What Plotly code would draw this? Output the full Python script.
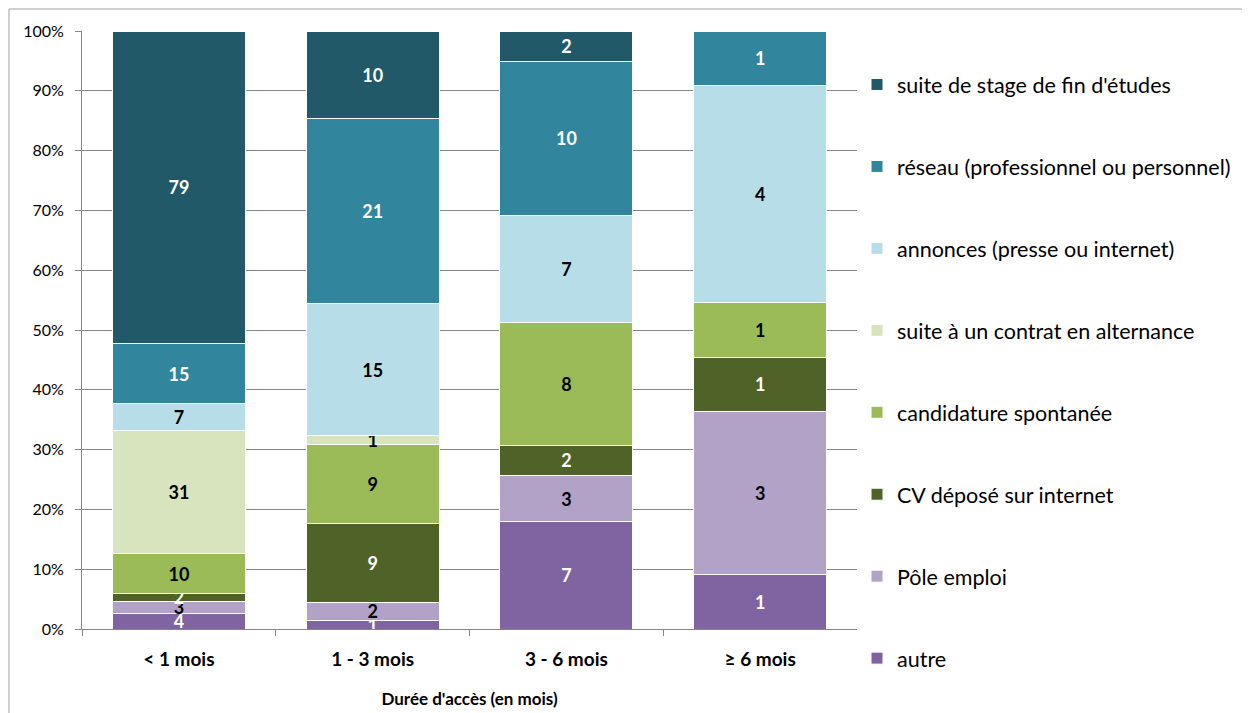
import plotly.graph_objects as go

categories = ["< 1 mois", "1 - 3 mois", "3 - 6 mois", "≥ 6 mois"]

# series, bottom to top of the stack
series_names = [
    "autre",
    "Pôle emploi",
    "CV déposé sur internet",
    "candidature spontanée",
    "suite à un contrat en alternance",
    "annonces (presse ou internet)",
    "réseau (professionnel ou personnel)",
    "suite de stage de fin d'études",
]
autre = [4, 1, 7, 1]
pole_emploi = [3, 2, 3, 3]
cv_internet = [2, 9, 2, 1]
candidature = [10, 9, 8, 1]
alternance = [31, 1, 0, 0]
annonces = [7, 15, 7, 4]
reseau = [15, 21, 10, 1]
stage = [79, 10, 2, 0]

series_values = [autre, pole_emploi, cv_internet, candidature,
                 alternance, annonces, reseau, stage]
colors = ["#8064A2", "#B3A2C7", "#4F6228", "#9BBB59",
          "#D7E4BD", "#B7DEE8", "#31859C", "#215968"]
text_colors = ["white", "black", "white", "black",
               "black", "black", "white", "white"]

FONT = "Lato, 'Open Sans', sans-serif"

W, H = 1242, 705
L, T, PW, PH = 74, 23, 775, 598

fig = go.Figure()
n = len(series_names)
for i, (name, vals) in enumerate(zip(series_names, series_values)):
    fig.add_trace(go.Bar(
        x=categories,
        y=[v if v else None for v in vals],
        name=name,
        legendgroup=name,
        legendrank=n - i,
        marker=dict(color=colors[i], line=dict(color="white", width=1)),
        text=[str(v) if v else "" for v in vals],
        textposition="inside",
        insidetextanchor="middle",
        constraintext="none",
        textangle=0,
        textfont=dict(color=text_colors[i], size=18, family=FONT, weight="bold"),
        cliponaxis=False,
    ))

fig.update_layout(
    barmode="stack",
    barnorm="percent",
    bargap=0.314,
    width=W,
    height=H,
    margin=dict(l=L, r=W - L - PW, t=T, b=H - T - PH, autoexpand=False),
    paper_bgcolor="white",
    plot_bgcolor="white",
    font=dict(family=FONT, color="black"),
    showlegend=True,
    legend=dict(
        traceorder="grouped",
        tracegroupgap=51,
        xref="container",
        yref="container",
        x=849 / W,
        xanchor="left",
        y=1 - 56 / H,
        yanchor="top",
        maxheight=700,
        font=dict(size=21.5, family=FONT, color="black"),
        itemwidth=30,
    ),
    xaxis=dict(
        showline=True,
        linecolor="#868686",
        linewidth=1,
        ticks="outside",
        tickson="boundaries",
        ticklen=6,
        tickcolor="#868686",
        ticklabelstandoff=13,
        tickfont=dict(size=19, family=FONT, weight="bold"),
        title=dict(text="<b>Durée d'accès (en mois)</b>", font=dict(size=17, family=FONT), standoff=24),
    ),
    yaxis=dict(
        range=[0, 100.0005],
        tickvals=[0, 10, 20, 30, 40, 50, 60, 70, 80, 90, 100],
        ticktext=["0%", "10%", "20%", "30%", "40%", "50%", "60%", "70%", "80%", "90%", "100%"],
        showgrid=True,
        gridcolor="#868686",
        gridwidth=1,
        showline=True,
        linecolor="#868686",
        linewidth=1,
        ticks="outside",
        ticklen=6,
        tickcolor="#868686",
        ticklabelstandoff=8,
        tickfont=dict(size=16, family=FONT),
        zeroline=False,
    ),
    shapes=[
        dict(type="line", xref="paper", yref="paper",
             x0=(1 - L) / PW, x1=(W - L) / PW,
             y0=(T + PH - 1) / PH, y1=(T + PH - 1) / PH,
             line=dict(color="#A0A0A0", width=1)),
        dict(type="line", xref="paper", yref="paper",
             x0=(1 - L) / PW, x1=(1 - L) / PW,
             y0=(T + PH - 1) / PH, y1=(T + PH - H) / PH,
             line=dict(color="#A0A0A0", width=1)),
    ],
)

fig.write_html("out.html")
